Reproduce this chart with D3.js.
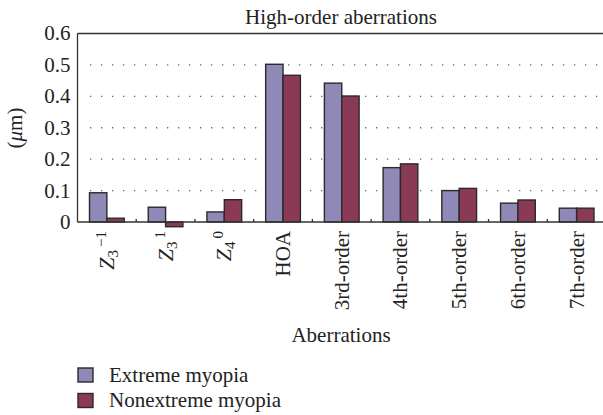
<!DOCTYPE html>
<html>
<head>
<meta charset="utf-8">
<script src="https://cdn.jsdelivr.net/npm/d3@7"></script>
<style>
  body { margin: 0; background: #fff; }
  text { font-family: "Liberation Serif", "Times New Roman", serif; }
</style>
</head>
<body>
<div id="chart-area"></div>
<script>
// categories; sub/sup used for the Zernike labels
var categories = ["Z3-1", "Z31", "Z40", "HOA", "3rd-order", "4th-order", "5th-order", "6th-order", "7th-order"];
var zernike = { "Z3-1": ["3", "\u22121"], "Z31": ["3", "1"], "Z40": ["4", "0"] };
var seriesNames = ["Extreme myopia", "Nonextreme myopia"];
var extremeVals = [0.093, 0.047, 0.032, 0.502, 0.442, 0.173, 0.100, 0.060, 0.044];
var nonextremeVals = [0.012, -0.015, 0.071, 0.467, 0.401, 0.185, 0.107, 0.070, 0.044];
var yTicks = [0, 0.1, 0.2, 0.3, 0.4, 0.5, 0.6];
var colors = ["#8f89b7", "#8a3957"];

var width = 603, height = 415;
var margin = { left: 77.5, top: 33.5, right: -3, bottom: 193 };
var plotW = width - margin.left - margin.right;
var plotH = height - margin.top - margin.bottom;
var fs = "21px";
var ff = "Liberation Serif";

var svg = d3.select("#chart-area").append("svg")
    .attr("width", width)
    .attr("height", height);

var g = svg.append("g")
    .attr("transform", "translate(" + margin.left + "," + margin.top + ")");

var x = d3.scaleBand()
    .domain(categories)
    .range([0, plotW])
    .paddingInner(0)
    .paddingOuter(0);

var x1 = d3.scaleBand()
    .domain([0, 1])
    .range([12, x.bandwidth() - 12]);

var y = d3.scaleLinear()
    .domain([0, 0.6])
    .range([plotH, 0]);

// gridlines (dotted)
g.selectAll(".grid")
    .data(yTicks.filter(function(t){ return t > 0 && t < 0.6; }))
    .enter().append("line")
    .attr("x1", 12.5)
    .attr("x2", plotW)
    .attr("y1", function(d){ return y(d); })
    .attr("y2", function(d){ return y(d); })
    .attr("stroke", "#666")
    .attr("stroke-width", 1.3)
    .attr("stroke-dasharray", "1.3,9.7");

// top border and left axis
g.append("line")
    .attr("x1", 0).attr("x2", plotW)
    .attr("y1", y(0.6)).attr("y2", y(0.6))
    .attr("stroke", "#333").attr("stroke-width", 1.3);
g.append("line")
    .attr("x1", 0).attr("x2", 0)
    .attr("y1", y(0.6)).attr("y2", y(0))
    .attr("stroke", "#333").attr("stroke-width", 1.3);

// y tick labels
g.selectAll(".ylab")
    .data(yTicks)
    .enter().append("text")
    .attr("x", -7)
    .attr("y", function(d){ return y(d); })
    .attr("dy", "0.33em")
    .attr("text-anchor", "end")
    .attr("font-family", ff)
    .attr("font-size", fs)
    .attr("fill", "#222")
    .text(function(d){ return d === 0 ? "0" : d3.format(".1f")(d); });

var data = categories.map(function(c, i){
    return { cat: c, vals: [extremeVals[i], nonextremeVals[i]] };
});

var groups = g.selectAll(".grp")
    .data(data)
    .enter().append("g")
    .attr("transform", function(d){ return "translate(" + x(d.cat) + ",0)"; });

groups.selectAll("rect")
    .data(function(d){ return d.vals.map(function(v, j){ return { v: v, j: j }; }); })
    .enter().append("rect")
    .attr("x", function(d){ return x1(d.j); })
    .attr("width", x1.bandwidth())
    .attr("y", function(d){ return y(Math.max(0, d.v)); })
    .attr("height", function(d){ return Math.abs(y(d.v) - y(0)); })
    .attr("fill", function(d){ return colors[d.j]; })
    .attr("stroke", "#2a2a2a")
    .attr("stroke-width", 1.4);

// x axis line with inner ticks between groups
g.append("line")
    .attr("x1", 0).attr("x2", plotW)
    .attr("y1", y(0)).attr("y2", y(0))
    .attr("stroke", "#333").attr("stroke-width", 1.3);
g.selectAll(".xtick")
    .data(categories.slice(1))
    .enter().append("line")
    .attr("x1", function(d){ return x(d); })
    .attr("x2", function(d){ return x(d); })
    .attr("y1", y(0)).attr("y2", y(0) - 3)
    .attr("stroke", "#333").attr("stroke-width", 1.3);

// rotated x labels
var xl = g.selectAll(".xlab")
    .data(categories)
    .enter().append("text")
    .attr("transform", function(d){
        return "translate(" + (x(d) + x.bandwidth() / 2) + "," + (y(0) + 9) + ") rotate(-90)";
    })
    .attr("dy", "0.33em")
    .attr("text-anchor", "end")
    .attr("font-family", ff)
    .attr("font-size", fs)
    .attr("fill", "#222");

xl.each(function(d){
    var t = d3.select(this);
    if (zernike[d]) {
        t.append("tspan").attr("font-style", "italic").attr("font-size", "22px").text("Z");
        t.append("tspan").attr("font-size", "15px").attr("baseline-shift", "-25%").text(zernike[d][0]);
        t.append("tspan").attr("font-size", "15px").attr("dx", "3").attr("baseline-shift", "55%").text(zernike[d][1]);
    } else {
        t.text(d);
    }
});

// titles
svg.append("text")
    .attr("x", 341)
    .attr("y", 24)
    .attr("text-anchor", "middle")
    .attr("font-family", ff)
    .attr("font-size", fs)
    .attr("fill", "#222")
    .text("High-order aberrations");

var yl = svg.append("text")
    .attr("transform", "translate(22,128) rotate(-90)")
    .attr("text-anchor", "middle")
    .attr("font-family", ff)
    .attr("font-size", fs)
    .attr("fill", "#222");
yl.append("tspan").text("(");
yl.append("tspan").attr("font-style", "italic").text("\u03bc");
yl.append("tspan").text("m)");

svg.append("text")
    .attr("x", 341)
    .attr("y", 342)
    .attr("text-anchor", "middle")
    .attr("font-family", ff)
    .attr("font-size", fs)
    .attr("fill", "#222")
    .text("Aberrations");

// legend
var legend = svg.selectAll(".leg")
    .data(seriesNames)
    .enter().append("g")
    .attr("transform", function(d, i){ return "translate(78," + (368 + i * 25.5) + ")"; });
legend.append("rect")
    .attr("width", 15)
    .attr("height", 14)
    .attr("fill", function(d, i){ return colors[i]; })
    .attr("stroke", "#2a2a2a")
    .attr("stroke-width", 1.4);
legend.append("text")
    .attr("x", 31)
    .attr("y", 13.5)
    .attr("font-family", ff)
    .attr("font-size", fs)
    .attr("fill", "#222")
    .text(function(d){ return d; });
</script>
</body>
</html>
